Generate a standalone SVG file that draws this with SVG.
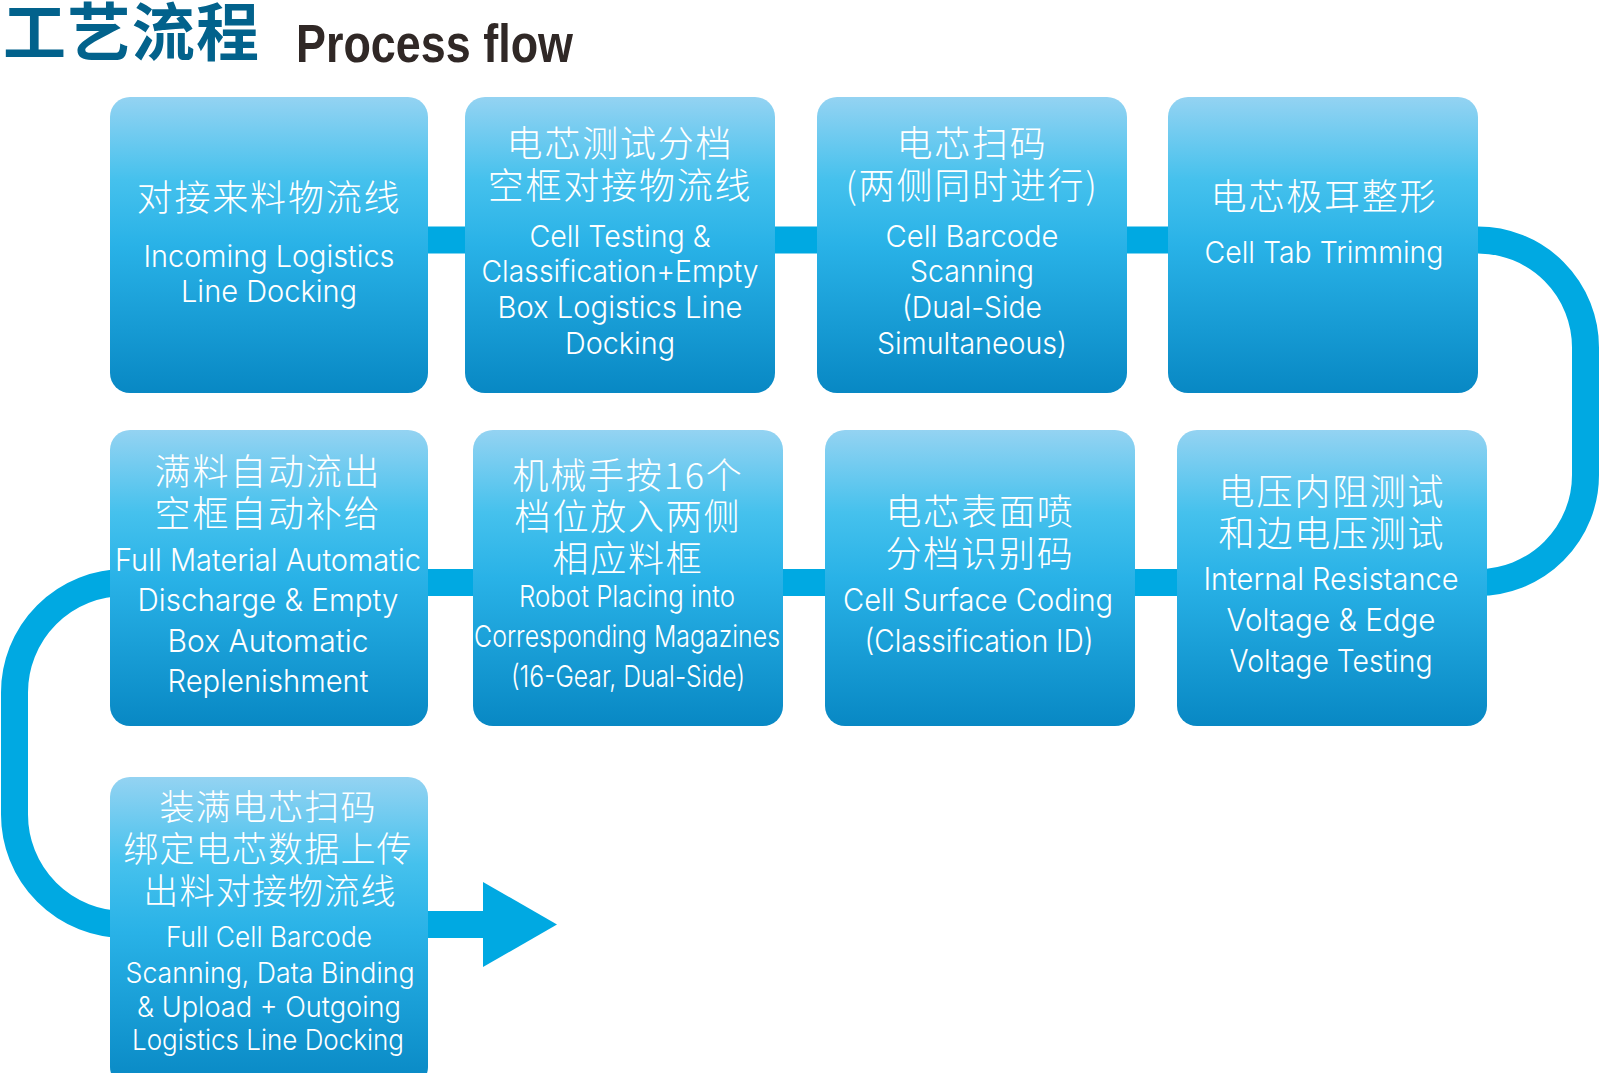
<svg xmlns="http://www.w3.org/2000/svg" width="1600" height="1073" viewBox="0 0 1600 1073">
<defs>
<linearGradient id="boxGrad" x1="0" y1="0" x2="0" y2="1">
<stop offset="0" stop-color="#94d3f2"/>
<stop offset="0.28" stop-color="#45c1ed"/>
<stop offset="0.5" stop-color="#29b2e7"/>
<stop offset="1" stop-color="#0888c4"/>
</linearGradient>
<style>
.box{fill:url(#boxGrad)}
.cn{font-family:"Noto Sans CJK SC","Noto Sans",sans-serif;font-weight:300;font-size:36px;fill:#ffffff;text-anchor:middle;letter-spacing:1.8px}
.en{font-family:Inter,Roboto,"Liberation Sans",sans-serif;font-weight:300;font-size:30px;fill:#ffffff;text-anchor:middle}
.en2{font-size:31px}
.en3{font-size:28px}
.conn{fill:none;stroke:#00a9e2;stroke-width:27}
.head{fill:#00a9e2}
</style>
</defs>
<rect width="1600" height="1073" fill="#ffffff"/>
<g id="title">
<text x="3" y="55" font-family="'Noto Sans CJK SC',sans-serif" font-weight="700" font-size="63" fill="#02628c" textLength="256" lengthAdjust="spacing">工艺流程</text>
<text x="296" y="62" font-family="'Liberation Sans',Arial,sans-serif" font-weight="700" font-size="54" fill="#302826" textLength="277" lengthAdjust="spacingAndGlyphs">Process flow</text>
</g>
<g id="connectors">
<path class="conn" d="M420 240 H1478 A107.5 107.5 0 0 1 1585.5 347.5 V475 A107.5 107.5 0 0 1 1478 582.5 H124.5 A110 110 0 0 0 14.5 692.5 V814.5 A110 110 0 0 0 124.5 924.5 H490"/>
<polygon class="head" points="483,882 557,924.5 483,967"/>
</g>
<g id="node1">
<rect class="box" x="110" y="97" width="318" height="296" rx="20"/>
<text class="cn" x="269" y="211">对接来料物流线</text>
<text class="en" x="269" y="267" textLength="251" lengthAdjust="spacingAndGlyphs">Incoming Logistics</text>
<text class="en" x="269" y="302" textLength="176" lengthAdjust="spacingAndGlyphs">Line Docking</text>
</g>
<g id="node2">
<rect class="box" x="465" y="97" width="310" height="296" rx="20"/>
<text class="cn" x="620" y="157">电芯测试分档</text>
<text class="cn" x="620" y="199">空框对接物流线</text>
<text class="en" x="620" y="247" textLength="181" lengthAdjust="spacingAndGlyphs">Cell Testing &amp;</text>
<text class="en" x="620" y="282" textLength="277" lengthAdjust="spacingAndGlyphs">Classification+Empty</text>
<text class="en" x="620" y="318" textLength="245" lengthAdjust="spacingAndGlyphs">Box Logistics Line</text>
<text class="en" x="620" y="354" textLength="110" lengthAdjust="spacingAndGlyphs">Docking</text>
</g>
<g id="node3">
<rect class="box" x="817" y="97" width="310" height="296" rx="20"/>
<text class="cn" x="972" y="157">电芯扫码</text>
<text class="cn" x="972" y="199">(两侧同时进行)</text>
<text class="en" x="972" y="247" textLength="173" lengthAdjust="spacingAndGlyphs">Cell Barcode</text>
<text class="en" x="972" y="282" textLength="124" lengthAdjust="spacingAndGlyphs">Scanning</text>
<text class="en" x="972" y="318" textLength="140" lengthAdjust="spacingAndGlyphs">(Dual-Side</text>
<text class="en" x="972" y="354" textLength="190" lengthAdjust="spacingAndGlyphs">Simultaneous)</text>
</g>
<g id="node4">
<rect class="box" x="1168" y="97" width="310" height="296" rx="20"/>
<text class="cn" x="1324" y="210">电芯极耳整形</text>
<text class="en" x="1324" y="263" textLength="239" lengthAdjust="spacingAndGlyphs">Cell Tab Trimming</text>
</g>
<g id="node5">
<rect class="box" x="110" y="430" width="318" height="296" rx="20"/>
<text class="cn" x="268" y="485">满料自动流出</text>
<text class="cn" x="268" y="527">空框自动补给</text>
<text class="en en2" x="268" y="571" textLength="306" lengthAdjust="spacingAndGlyphs">Full Material Automatic</text>
<text class="en en2" x="268" y="611" textLength="261" lengthAdjust="spacingAndGlyphs">Discharge &amp; Empty</text>
<text class="en en2" x="268" y="652" textLength="201" lengthAdjust="spacingAndGlyphs">Box Automatic</text>
<text class="en en2" x="268" y="692" textLength="201" lengthAdjust="spacingAndGlyphs">Replenishment</text>
</g>
<g id="node6">
<rect class="box" x="473" y="430" width="310" height="296" rx="20"/>
<text class="cn" x="628" y="489">机械手按16个</text>
<text class="cn" x="628" y="530">档位放入两侧</text>
<text class="cn" x="628" y="572">相应料框</text>
<text class="en" x="627" y="607" textLength="216" lengthAdjust="spacingAndGlyphs">Robot Placing into</text>
<text class="en" x="627" y="647" textLength="306" lengthAdjust="spacingAndGlyphs">Corresponding Magazines</text>
<text class="en" x="628" y="687" textLength="234" lengthAdjust="spacingAndGlyphs">(16-Gear, Dual-Side)</text>
</g>
<g id="node7">
<rect class="box" x="825" y="430" width="310" height="296" rx="20"/>
<text class="cn" x="980" y="525">电芯表面喷</text>
<text class="cn" x="980" y="567">分档识别码</text>
<text class="en en2" x="978" y="611" textLength="270" lengthAdjust="spacingAndGlyphs">Cell Surface Coding</text>
<text class="en en2" x="979" y="652" textLength="229" lengthAdjust="spacingAndGlyphs">(Classification ID)</text>
</g>
<g id="node8">
<rect class="box" x="1177" y="430" width="310" height="296" rx="20"/>
<text class="cn" x="1332" y="505">电压内阻测试</text>
<text class="cn" x="1332" y="547">和边电压测试</text>
<text class="en en2" x="1331" y="590" textLength="255" lengthAdjust="spacingAndGlyphs">Internal Resistance</text>
<text class="en en2" x="1331" y="631" textLength="209" lengthAdjust="spacingAndGlyphs">Voltage &amp; Edge</text>
<text class="en en2" x="1331" y="672" textLength="203" lengthAdjust="spacingAndGlyphs">Voltage Testing</text>
</g>
<g id="node9">
<rect class="box" x="110" y="777" width="318" height="310" rx="20"/>
<text class="cn" x="268" y="820" style="font-size:35px;letter-spacing:1.2px">装满电芯扫码</text>
<text class="cn" x="268" y="862" style="font-size:35px;letter-spacing:1.2px">绑定电芯数据上传</text>
<text class="cn" x="270" y="904" style="font-size:35px;letter-spacing:1.2px">出料对接物流线</text>
<text class="en en3" x="269" y="947" textLength="206" lengthAdjust="spacingAndGlyphs">Full Cell Barcode</text>
<text class="en en3" x="270" y="983" textLength="289" lengthAdjust="spacingAndGlyphs">Scanning, Data Binding</text>
<text class="en en3" x="269" y="1017" textLength="264" lengthAdjust="spacingAndGlyphs">&amp; Upload + Outgoing</text>
<text class="en en3" x="268" y="1050" textLength="272" lengthAdjust="spacingAndGlyphs">Logistics Line Docking</text>
</g>
</svg>
